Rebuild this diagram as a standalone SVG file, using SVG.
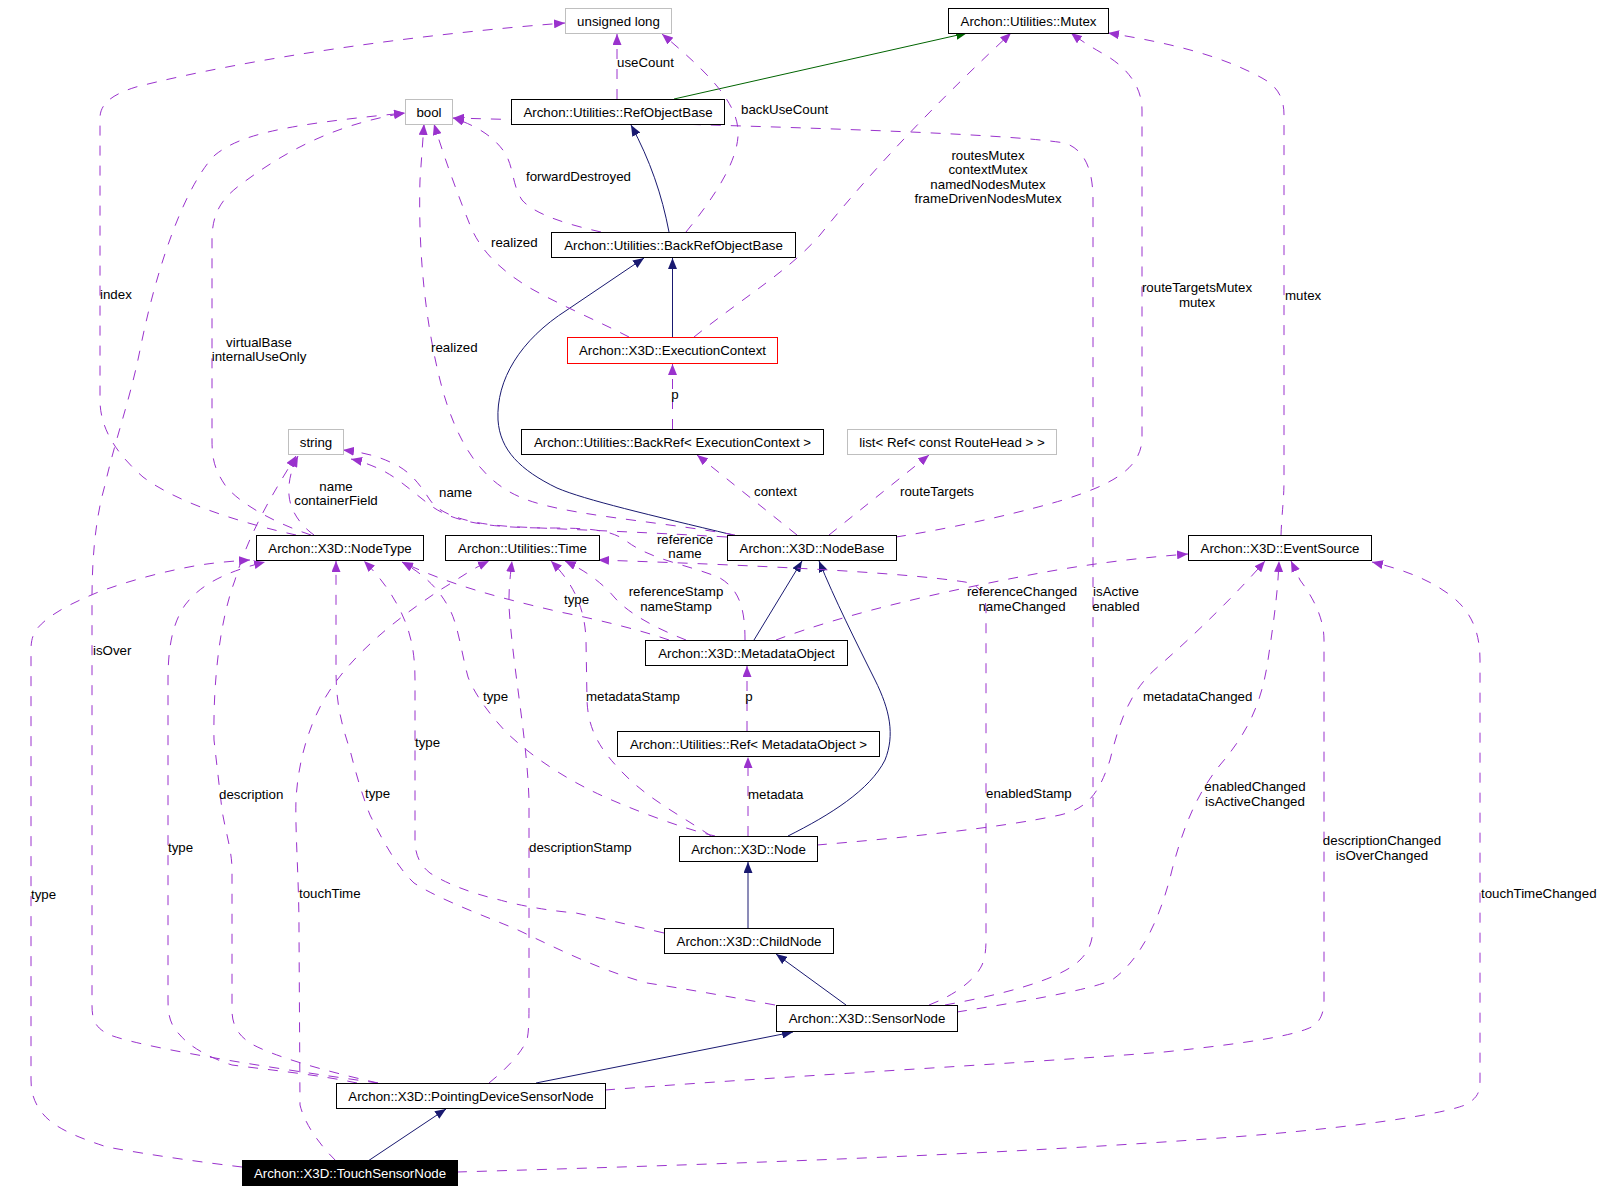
<svg xmlns="http://www.w3.org/2000/svg" width="1604" height="1192" viewBox="0 0 1604 1192">
<style>
text{font-family:"Liberation Sans",Arial,sans-serif;font-size:13.3px;fill:#000}
.n rect{fill:#fff;stroke:#000;stroke-width:1}
.n text{text-anchor:middle}
.g rect{stroke:#bfbfbf}
.red rect{stroke:#ff0000}
.blk rect{fill:#000}
.blk text{fill:#fff}
.d{fill:none;stroke:#9a32cd;stroke-width:1;stroke-dasharray:10,10;marker-end:url(#ap)}
.s{fill:none;stroke:#191970;stroke-width:1;marker-end:url(#an)}
.gr{fill:none;stroke:#006400;stroke-width:1;marker-end:url(#ag)}
.l{text-anchor:start}
.m{text-anchor:middle}
</style>
<defs>
<marker id="ap" markerUnits="userSpaceOnUse" markerWidth="12" markerHeight="9" refX="11" refY="4.5" orient="auto"><path d="M0,0 L11,4.5 L0,9 z" fill="#9a32cd"/></marker>
<marker id="an" markerUnits="userSpaceOnUse" markerWidth="12" markerHeight="9" refX="11" refY="4.5" orient="auto"><path d="M0,0 L11,4.5 L0,9 z" fill="#191970"/></marker>
<marker id="ag" markerUnits="userSpaceOnUse" markerWidth="12" markerHeight="9" refX="11" refY="4.5" orient="auto"><path d="M0,0 L11,4.5 L0,9 z" fill="#006400"/></marker>
</defs>
<rect width="1604" height="1192" fill="#fff"/>
<g id="edges">
<!-- inheritance -->
<path class="s" d="M669,232 C 662,195 650,160 631,125"/>
<path class="s" d="M672.5,337 L672.5,258"/>
<path class="s" d="M733,535 C 650,515 585,500 557,488 C 520,470 500,450 498,420 C 496,380 520,340 567,310 L644,258"/>
<path class="s" d="M754,640 L802,561"/>
<path class="s" d="M788,836 C 830,815 870,790 885,760 C 895,735 890,710 875,680 C 855,640 835,600 819,561"/>
<path class="s" d="M748,928 L748,862"/>
<path class="s" d="M846,1005 L776,954"/>
<path class="s" d="M536,1083 L793,1032"/>
<path class="s" d="M368,1161 L446,1109"/>
<path class="gr" d="M674,99 L967,33"/>
<!-- unsigned long -->
<path class="d" d="M617,99 L617,34"/>
<path class="d" d="M686,232 C 712,200 740,160 738,130 C 736,100 705,70 662,34"/>
<path class="d" d="M296,535 C 250,525 180,505 143,477 C 118,455 100,430 100,400 L100,118 C 100,105 110,95 136,87 C 250,58 420,34 565,23"/>
<!-- bool -->
<path class="d" d="M601,232 C 570,225 535,215 522,200 C 512,185 514,168 505,153 C 495,138 478,126 453,118"/>
<path class="d" d="M629,337 C 600,322 560,305 530,288 C 500,270 480,250 470,225 C 458,195 445,160 434,124"/>
<path class="d" d="M735,535 C 650,520 560,515 520,497 C 480,480 455,440 440,380 C 425,320 418,250 420,180 L424,124"/>
<path class="d" d="M311,535 C 280,525 240,505 225,485 C 215,470 212,460 212,440 L212,240 C 212,215 220,200 240,185 C 280,155 330,125 405,113"/>
<path class="d" d="M378,1083 C 300,1072 150,1050 110,1035 C 95,1028 92,1020 92,1005 L92,600 C 92,560 95,520 105,485 C 115,440 130,400 140,350 C 160,250 190,180 215,155 C 240,135 280,125 405,113"/>
<path class="d" d="M945,1005 C 1000,995 1060,980 1080,960 C 1090,950 1093,940 1093,925 L1093,200 C 1093,170 1085,150 1065,143 C 1000,133 800,127 453,118"/>
<!-- Mutex -->
<path class="d" d="M694,337 C 740,300 790,270 820,235 C 880,160 950,90 1011,33"/>
<path class="d" d="M896,537 C 960,527 1030,510 1063,500 C 1110,485 1140,470 1142,440 L1142,110 C 1142,85 1125,65 1100,52 C 1088,45 1080,40 1071,33"/>
<path class="d" d="M1281,535 C 1282,510 1284,500 1284,480 L1284,115 C 1284,95 1275,85 1262,78 C 1220,55 1170,43 1108,33"/>
<!-- EC, BackRef, list -->
<path class="d" d="M672.5,429 L672.5,364"/>
<path class="d" d="M797,535 L697,455"/>
<path class="d" d="M829,535 L929,455"/>
<!-- string -->
<path class="d" d="M727,537 C 640,532 580,530 520,527 C 470,525 440,515 430,500 C 420,485 410,470 390,462 C 375,455 360,452 343,450"/>
<path class="d" d="M745,640 C 745,610 740,590 720,578 C 690,565 650,560 625,540 C 610,530 590,528 550,528 C 480,528 450,520 430,505 C 410,490 395,475 375,467 C 368,464 360,461 351,459"/>
<path class="d" d="M314,535 C 300,525 290,510 289,495 C 288,480 292,468 298,456"/>
<path class="d" d="M378,1083 C 320,1070 270,1055 250,1043 C 238,1035 232,1025 232,1010 L232,870 C 232,850 225,830 222,810 L214,740 C 213,680 220,620 235,580 C 250,530 275,490 296,456"/>
<!-- NodeType -->
<path class="d" d="M669,640 C 640,630 600,620 560,612 C 500,598 450,585 402,562"/>
<path class="d" d="M715,836 C 680,828 620,805 590,790 C 560,775 530,755 507,733 C 490,715 475,695 468,677 C 462,655 458,625 450,610 C 440,590 425,575 402,562"/>
<path class="d" d="M664,933 C 630,925 600,918 576,913 C 540,910 510,903 500,900 C 470,893 445,883 430,873 C 420,865 415,855 415,840 L415,680 C 415,650 410,630 400,610 C 390,590 378,575 364,561"/>
<path class="d" d="M775,1005 C 720,995 680,988 647,983 C 600,970 560,950 518,930 C 490,918 440,900 414,883 C 395,865 380,835 370,815 C 362,795 355,770 350,750 C 340,720 336,700 336,670 L336,561"/>
<path class="d" d="M357,1083 C 320,1075 270,1070 232,1065 C 210,1058 190,1047 180,1035 C 170,1025 168,1015 168,1000 L168,680 C 168,640 175,620 185,605 C 200,585 225,572 265,562"/>
<path class="d" d="M242,1167 C 200,1162 150,1155 107,1147 C 70,1135 50,1125 40,1110 C 33,1100 31,1090 31,1080 L31,650 C 31,640 33,635 36,630 C 50,612 80,600 96,593 C 130,580 170,570 200,565 C 220,562 235,561 250,560"/>
<!-- Time -->
<path class="d" d="M686,640 C 660,630 630,615 615,598 C 600,580 580,568 565,561"/>
<path class="d" d="M711,836 C 680,815 650,800 625,775 C 600,750 588,730 587,700 L586,640 C 585,610 575,585 551,561"/>
<path class="d" d="M929,1005 C 955,995 975,980 982,965 C 985,958 986,950 986,940 L986,610 C 986,595 980,585 965,582 C 900,572 750,565 598,560"/>
<path class="d" d="M489,1083 C 505,1070 520,1055 527,1040 C 529,1030 529,1020 529,1000 L529,800 C 527,740 515,680 510,620 C 508,600 509,585 512,561"/>
<path class="d" d="M336,1161 C 320,1145 305,1125 300,1105 L299,930 C 299,880 295,830 296,800 C 298,760 310,720 330,690 C 360,645 410,610 440,590 C 460,578 470,570 489,561"/>
<!-- Ref<MetadataObject> / MetadataObject -->
<path class="d" d="M748,836 L748,757"/>
<path class="d" d="M747,731 L747,666"/>
<!-- EventSource -->
<path class="d" d="M776,640 C 850,612 950,590 1040,573 C 1100,562 1150,557 1188,554"/>
<path class="d" d="M817,845 C 900,838 1000,828 1060,815 C 1090,808 1100,790 1110,760 C 1120,720 1130,690 1160,665 C 1200,630 1240,590 1265,561"/>
<path class="d" d="M957,1012 C 1020,1002 1090,990 1112,980 C 1140,960 1160,920 1172,870 C 1185,820 1200,790 1220,765 C 1250,730 1262,700 1268,660 C 1274,620 1278,590 1279,561"/>
<path class="d" d="M605,1090 C 800,1075 1000,1065 1164,1052 C 1250,1043 1300,1035 1315,1025 C 1322,1018 1324,1010 1324,1000 L1324,640 C 1324,620 1315,600 1300,580 L1291,561"/>
<path class="d" d="M457,1172 C 700,1165 1000,1155 1233,1137 C 1350,1128 1440,1115 1465,1105 C 1478,1098 1480,1092 1480,1080 L1480,660 C 1480,630 1470,610 1450,595 C 1430,580 1405,570 1372,562"/>
<!-- labels -->
<text class="l" x="617" y="67">useCount</text>
<text class="l" x="741" y="114">backUseCount</text>
<text class="l" x="526" y="181">forwardDestroyed</text>
<text class="l" x="491" y="247">realized</text>
<text class="l" x="431" y="352">realized</text>
<text class="l" x="100" y="299">index</text>
<text class="m" x="259" y="347">virtualBase</text>
<text class="m" x="259" y="361">internalUseOnly</text>
<text class="m" x="988" y="160">routesMutex</text>
<text class="m" x="988" y="174">contextMutex</text>
<text class="m" x="988" y="189">namedNodesMutex</text>
<text class="m" x="988" y="203">frameDrivenNodesMutex</text>
<text class="m" x="1197" y="292">routeTargetsMutex</text>
<text class="m" x="1197" y="307">mutex</text>
<text class="l" x="1285" y="300">mutex</text>
<text class="m" x="675" y="399">p</text>
<text class="m" x="336" y="491">name</text>
<text class="m" x="336" y="505">containerField</text>
<text class="l" x="439" y="497">name</text>
<text class="l" x="754" y="496">context</text>
<text class="l" x="900" y="496">routeTargets</text>
<text class="m" x="685" y="544">reference</text>
<text class="m" x="685" y="558">name</text>
<text class="l" x="564" y="604">type</text>
<text class="m" x="676" y="596">referenceStamp</text>
<text class="m" x="676" y="611">nameStamp</text>
<text class="m" x="1022" y="596">referenceChanged</text>
<text class="m" x="1022" y="611">nameChanged</text>
<text class="m" x="1116" y="596">isActive</text>
<text class="m" x="1116" y="611">enabled</text>
<text class="l" x="93" y="655">isOver</text>
<text class="l" x="483" y="701">type</text>
<text class="l" x="586" y="701">metadataStamp</text>
<text class="m" x="749" y="701">p</text>
<text class="l" x="1143" y="701">metadataChanged</text>
<text class="l" x="415" y="747">type</text>
<text class="l" x="219" y="799">description</text>
<text class="l" x="365" y="798">type</text>
<text class="l" x="748" y="799">metadata</text>
<text class="l" x="986" y="798">enabledStamp</text>
<text class="m" x="1255" y="791">enabledChanged</text>
<text class="m" x="1255" y="806">isActiveChanged</text>
<text class="l" x="168" y="852">type</text>
<text class="l" x="529" y="852">descriptionStamp</text>
<text class="m" x="1382" y="845">descriptionChanged</text>
<text class="m" x="1382" y="860">isOverChanged</text>
<text class="l" x="31" y="899">type</text>
<text class="l" x="299" y="898">touchTime</text>
<text class="l" x="1481" y="898">touchTimeChanged</text>
</g>
<g id="n_unsigned_long" class="n g"><rect x="565.5" y="8.5" width="106" height="25"/><text x="618.5" y="25.5">unsigned long</text></g>
<g id="n_mutex" class="n"><rect x="948.5" y="8.5" width="160" height="25"/><text x="1028.5" y="25.5">Archon::Utilities::Mutex</text></g>
<g id="n_bool" class="n g"><rect x="405.5" y="99.5" width="47" height="25"/><text x="429" y="116.5">bool</text></g>
<g id="n_refobjectbase" class="n"><rect x="511.5" y="99.5" width="213" height="25"/><text x="618" y="116.5">Archon::Utilities::RefObjectBase</text></g>
<g id="n_backrefobjectbase" class="n"><rect x="551.5" y="232.5" width="244" height="25"/><text x="673.5" y="249.5">Archon::Utilities::BackRefObjectBase</text></g>
<g id="n_executioncontext" class="n red"><rect x="567.5" y="337.5" width="210" height="26"/><text x="672.5" y="355">Archon::X3D::ExecutionContext</text></g>
<g id="n_backref_ec" class="n"><rect x="521.5" y="429.5" width="302" height="25"/><text x="672.5" y="446.5">Archon::Utilities::BackRef&lt; ExecutionContext &gt;</text></g>
<g id="n_list" class="n g"><rect x="847.5" y="429.5" width="209" height="25"/><text x="952" y="446.5">list&lt; Ref&lt; const RouteHead &gt; &gt;</text></g>
<g id="n_string" class="n g"><rect x="288.5" y="429.5" width="55" height="25"/><text x="316" y="446.5">string</text></g>
<g id="n_nodetype" class="n"><rect x="256.5" y="535.5" width="167" height="25"/><text x="340" y="552.5">Archon::X3D::NodeType</text></g>
<g id="n_time" class="n"><rect x="445.5" y="535.5" width="154" height="25"/><text x="522.5" y="552.5">Archon::Utilities::Time</text></g>
<g id="n_nodebase" class="n"><rect x="727.5" y="535.5" width="169" height="25"/><text x="812" y="552.5">Archon::X3D::NodeBase</text></g>
<g id="n_eventsource" class="n"><rect x="1188.5" y="535.5" width="183" height="25"/><text x="1280" y="552.5">Archon::X3D::EventSource</text></g>
<g id="n_metadataobject" class="n"><rect x="645.5" y="640.5" width="202" height="25"/><text x="746.5" y="657.5">Archon::X3D::MetadataObject</text></g>
<g id="n_ref_mo" class="n"><rect x="617.5" y="731.5" width="262" height="25"/><text x="748.5" y="748.5">Archon::Utilities::Ref&lt; MetadataObject &gt;</text></g>
<g id="n_node" class="n"><rect x="679.5" y="836.5" width="138" height="25"/><text x="748.5" y="853.5">Archon::X3D::Node</text></g>
<g id="n_childnode" class="n"><rect x="664.5" y="928.5" width="169" height="25"/><text x="749" y="945.5">Archon::X3D::ChildNode</text></g>
<g id="n_sensornode" class="n"><rect x="776.5" y="1005.5" width="181" height="26"/><text x="867" y="1023">Archon::X3D::SensorNode</text></g>
<g id="n_pdsn" class="n"><rect x="336.5" y="1083.5" width="269" height="25"/><text x="471" y="1100.5">Archon::X3D::PointingDeviceSensorNode</text></g>
<g id="n_touchsensornode" class="n blk"><rect x="242.5" y="1160.5" width="215" height="25"/><text x="350" y="1177.5">Archon::X3D::TouchSensorNode</text></g>
</svg>
